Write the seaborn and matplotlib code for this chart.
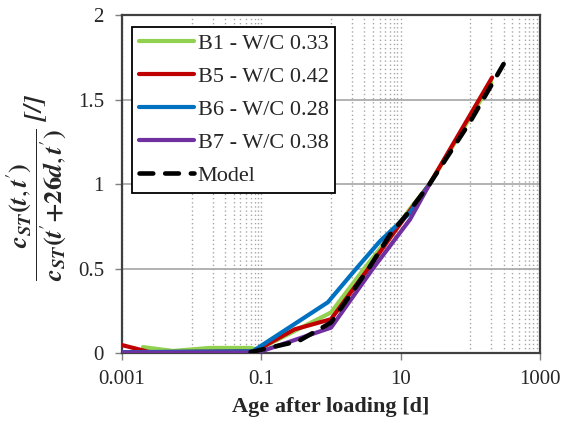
import matplotlib
matplotlib.use("Agg")
import matplotlib.pyplot as plt
import matplotlib.ticker as mticker
import pandas as pd
import seaborn as sns

# Data (age after loading [d], normalised creep)
b1_t = [0.002, 0.0054, 0.018, 0.07, 0.09, 1.0, 3.0, 7.0, 14.0, 26.0, 200.0]
b1_v = [0.035, 0.012, 0.03, 0.03, 0.02, 0.24, 0.50, 0.69, 0.86, 1.0, 1.60]

b5_t = [0.001, 0.0025, 0.08, 0.3, 1.0, 3.3, 7.0, 14.0, 26.0, 205.0]
b5_v = [0.047, 0.005, 0.01, 0.14, 0.20, 0.49, 0.68, 0.85, 1.0, 1.63]

b6_t = [0.001, 0.075, 0.9, 2.2, 5.0, 13.6, 26.0]
b6_v = [0.005, 0.01, 0.30, 0.49, 0.66, 0.83, 1.0]

b7_t = [0.001, 0.08, 0.1, 1.0, 4.0, 13.6, 26.0]
b7_v = [0.003, 0.003, 0.01, 0.15, 0.50, 0.79, 1.0]

model_t = [0.07, 0.1, 0.34, 1.0, 3.6, 7.0, 12.8, 26.0, 100.0, 300.0]
model_v = [0.005, 0.02, 0.07, 0.18, 0.51, 0.70, 0.83, 1.0, 1.37, 1.71]

labels = ["B1 - W/C 0.33", "B5 - W/C 0.42", "B6 - W/C 0.28", "B7 - W/C 0.38", "Model"]
colors = ["#92D050", "#C00000", "#0070C0", "#7030A0", "black"]

sns.set_style("white")
plt.rcParams["font.family"] = ["Liberation Serif", "DejaVu Serif"]
plt.rcParams["mathtext.fontset"] = "stix"

fig = plt.figure(figsize=(5.63, 4.25), dpi=100)
ax = fig.add_axes([0.2167, 0.1694, 0.7425, 0.7953])

series = [(b1_t, b1_v), (b5_t, b5_v), (b6_t, b6_v), (b7_t, b7_v)]
for (t, v), lab, col in zip(series, labels[:4], colors[:4]):
    df = pd.DataFrame({"t": t, "v": v})
    sns.lineplot(data=df, x="t", y="v", color=col, lw=3.0, label=lab, ax=ax,
                 solid_capstyle="round", zorder=3)

df_m = pd.DataFrame({"t": model_t, "v": model_v})
sns.lineplot(data=df_m, x="t", y="v", color="black", lw=3.3, label=labels[4], ax=ax,
             linestyle=(0, (3.0, 2.6)), dash_capstyle="round", zorder=4)

# Axes
ax.set_xscale("log")
ax.set_xlim(0.001, 1000)
ax.set_ylim(0, 2)
ax.xaxis.set_major_locator(mticker.FixedLocator([0.001, 0.1, 10, 1000]))
ax.xaxis.set_major_formatter(mticker.FixedFormatter(["0.001", "0.1", "10", "1000"]))
minor = [d * k for d in (0.01, 1, 100) for k in range(1, 10)]
ax.xaxis.set_minor_locator(mticker.FixedLocator(minor))
ax.xaxis.set_minor_formatter(mticker.NullFormatter())
ax.set_yticks([0, 0.5, 1, 1.5, 2])
ax.set_yticklabels(["0", "0.5", "1", "1.5", "2"])

ax.grid(True, which="major", axis="y", color="#A6A6A6", lw=1.2, ls="-")
ax.grid(True, which="both", axis="x", color="#A6A6A6", lw=1.0, ls=(0, (1, 2)))
ax.set_axisbelow(True)

for s in ax.spines.values():
    s.set_color("#404040")
    s.set_linewidth(1.6)

ax.tick_params(axis="both", which="major", direction="out", length=5, width=1.0,
               color="#808080", labelsize=15, bottom=True, left=True)
ax.tick_params(axis="y", pad=8)
ax.tick_params(axis="x", pad=7)
ax.tick_params(axis="x", which="minor", length=0)

ax.set_xlabel("Age after loading [d]", fontsize=16, fontweight="bold", labelpad=6)

# y label: bold italic fraction, primes set outside the bold-italic groups
p = r"^{\prime}"
num = r"\mathbfit{c}_{\mathbfit{ST}}\mathbf{(}\mathbfit{t},\mathbfit{t}" + p + r"\mathbf{)}"
den = (r"\mathbfit{c}_{\mathbfit{ST}}\mathbf{(}\mathbfit{t}" + p +
       r"\mathbf{+26}\mathbfit{d},\mathbfit{t}" + p + r"\mathbf{)}")
ax.set_ylabel(r"$\dfrac{" + num + "}{" + den + r"}$ $\mathbfit{[/]}$",
              fontsize=19, labelpad=0)
ax.yaxis.set_label_coords(-0.13, 0.49)

leg = ax.legend(loc="upper left", bbox_to_anchor=(0.024, 0.965), fontsize=16,
                frameon=True, fancybox=False, framealpha=1, edgecolor="black",
                handlelength=2.5, handletextpad=0.15, labelspacing=0.56,
                borderpad=0.3, borderaxespad=0)
leg.get_frame().set_linewidth(1.3)

fig.savefig("out.png", dpi=100)
